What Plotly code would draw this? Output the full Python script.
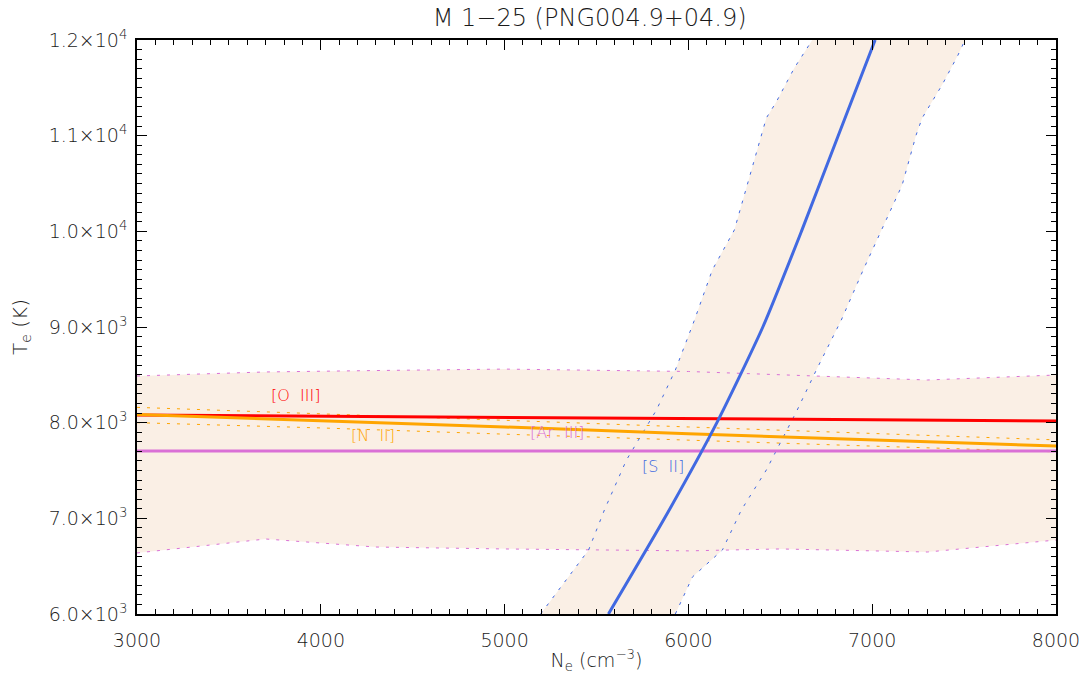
import plotly.graph_objects as go

# ---------------- data ----------------
ne_grid = [3000, 4000, 5000, 6000, 7000, 8000]

oiii_te = [8080, 8068, 8055, 8042, 8030, 8017]

nii_te = [8085, 8023, 7955, 7885, 7820, 7756]
nii_te_hi = [8160, 8095, 8025, 7955, 7885, 7820]
nii_te_lo = [8000, 7945, 7880, 7815, 7755, 7695]

ariii_te = [7705, 7705, 7705, 7705, 7705, 7705]
ariii_ne_err = [3000, 3700, 4300, 5000, 6000, 6500, 7300, 8000]
ariii_te_hi = [8488, 8530, 8545, 8560, 8535, 8500, 8446, 8498]
ariii_te_lo = [6638, 6784, 6700, 6680, 6660, 6680, 6648, 6773]

sii_ne = [5565, 5870, 6155, 6405, 6615, 6815, 7016]
sii_te = [6000, 7000, 8000, 9000, 10000, 11000, 12000]

sii_lo_ne = [5196, 5457, 5543, 5663, 5826, 5929, 6033, 6130, 6250, 6348, 6424, 6478, 6576, 6674]
sii_lo_te = [6000, 6669, 7087, 7610, 8132, 8550, 9073, 9596, 10014, 10662, 11185, 11352, 11707, 12000]

sii_hi_ne = [5929, 6022, 6185, 6288, 6424, 6592, 6696, 6832, 6951, 7038, 7163, 7239, 7272, 7380, 7467, 7505]
sii_hi_te = [6000, 6387, 6669, 7087, 7505, 8132, 8550, 9073, 9596, 9962, 10484, 11007, 11185, 11529, 11843, 12000]

y_tickvals = [6000, 7000, 8000, 9000, 10000, 11000, 12000]
y_ticktext = ["6.0×10<sup>3</sup>", "7.0×10<sup>3</sup>", "8.0×10<sup>3</sup>",
              "9.0×10<sup>3</sup>", "1.0×10<sup>4</sup>", "1.1×10<sup>4</sup>",
              "1.2×10<sup>4</sup>"]
x_tickvals = [3000, 4000, 5000, 6000, 7000, 8000]

labels = [
    ("[O  III]", 3860, 8280, "#FF0000"),
    ("[N  II]", 4285, 7870, "#FFA500"),
    ("[Ar  III]", 5285, 7900, "#DA70D6"),
    ("[S  II]", 5860, 7547, "#4169E1"),
]

FILL = "#FAEFE5"
FONT = "DejaVu Sans"
TXT = "#1a1a1a"

fig = go.Figure()

# filled uncertainty bands
fig.add_trace(go.Scatter(
    x=ariii_ne_err + ariii_ne_err[::-1], y=ariii_te_hi + ariii_te_lo[::-1],
    fill="toself", fillcolor=FILL, line=dict(width=0), mode="lines",
    hoverinfo="skip", showlegend=False))
fig.add_trace(go.Scatter(
    x=sii_lo_ne + sii_hi_ne[::-1], y=sii_lo_te + sii_hi_te[::-1],
    fill="toself", fillcolor=FILL, line=dict(width=0), mode="lines",
    hoverinfo="skip", showlegend=False))

# dotted error curves
dash = "3px,7px"
fig.add_trace(go.Scatter(x=ariii_ne_err, y=ariii_te_hi, mode="lines",
                         line=dict(color="#DA70D6", width=1, dash=dash), showlegend=False))
fig.add_trace(go.Scatter(x=ariii_ne_err, y=ariii_te_lo, mode="lines",
                         line=dict(color="#DA70D6", width=1, dash=dash), showlegend=False))
fig.add_trace(go.Scatter(x=ne_grid, y=nii_te_hi, mode="lines",
                         line=dict(color="#FFA500", width=1, dash=dash), showlegend=False))
fig.add_trace(go.Scatter(x=ne_grid, y=nii_te_lo, mode="lines",
                         line=dict(color="#FFA500", width=1, dash=dash), showlegend=False))
fig.add_trace(go.Scatter(x=sii_lo_ne, y=sii_lo_te, mode="lines",
                         line=dict(color="#4169E1", width=1, dash=dash), showlegend=False))
fig.add_trace(go.Scatter(x=sii_hi_ne, y=sii_hi_te, mode="lines",
                         line=dict(color="#4169E1", width=1, dash=dash), showlegend=False))

# main diagnostic curves
fig.add_trace(go.Scatter(x=ne_grid, y=oiii_te, mode="lines",
                         line=dict(color="#FF0000", width=3), showlegend=False))
fig.add_trace(go.Scatter(x=ne_grid, y=nii_te, mode="lines",
                         line=dict(color="#FFA500", width=3), showlegend=False))
fig.add_trace(go.Scatter(x=ne_grid, y=ariii_te, mode="lines",
                         line=dict(color="#DA70D6", width=3), showlegend=False))
fig.add_trace(go.Scatter(x=sii_ne, y=sii_te, mode="lines",
                         line=dict(color="#4169E1", width=3, shape="spline", smoothing=0.6),
                         showlegend=False))

for txt, x, y, c in labels:
    fig.add_annotation(x=x, y=y, text=txt, showarrow=False,
                       font=dict(family=FONT, size=16, color=c, weight=300))

axis_common = dict(
    showline=True, linecolor="black", linewidth=1.5, mirror="ticks",
    ticks="inside", ticklen=10, tickwidth=1, tickcolor="black",
    showgrid=False, zeroline=False,
    tickfont=dict(family=FONT, size=19, color=TXT, weight=300),
)

fig.update_layout(
    width=1092, height=687,
    margin=dict(l=137, r=34, t=40, b=73),
    paper_bgcolor="white", plot_bgcolor="white",
    title=dict(text="M 1−25 (PNG004.9+04.9)", x=0.54, xanchor="center",
               y=0.975, yanchor="middle",
               font=dict(family=FONT, size=24, color=TXT, weight=300)),
    xaxis=dict(range=[3000, 8000], tickvals=x_tickvals,
               minor=dict(dtick=100, ticklen=5, ticks="inside", tickcolor="black"),
               ticklabelstandoff=8,
               title=dict(text="N<sub>e</sub> (cm<sup>−3</sup>)",
                          font=dict(family=FONT, size=19, color=TXT, weight=300), standoff=4),
               **axis_common),
    yaxis=dict(range=[6000, 12000], tickvals=y_tickvals, ticktext=y_ticktext,
               minor=dict(dtick=100, ticklen=5, ticks="inside", tickcolor="black"),
               ticklabelstandoff=4,
               title=dict(text="T<sub>e</sub> (K)",
                          font=dict(family=FONT, size=20, color=TXT, weight=300), standoff=16),
               **axis_common),
)

fig.write_html("out.html")
